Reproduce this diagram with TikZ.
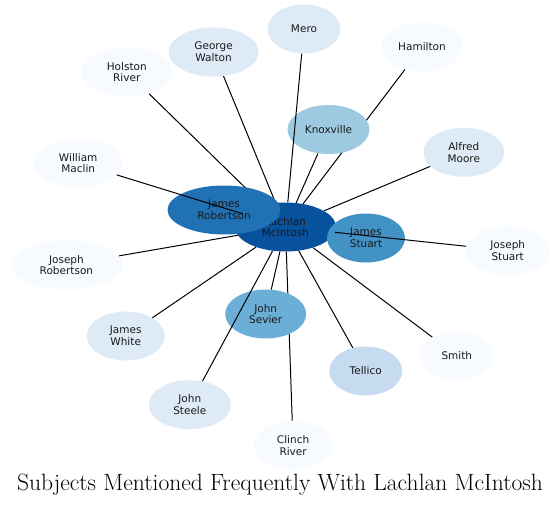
\documentclass[tikz,border=0pt]{standalone}
\usepackage{fontspec}
\newfontfamily\dejavu{DejaVu Sans}
\usetikzlibrary{shapes.geometric}
\pgfdeclarelayer{bg}
\pgfsetlayers{bg,main}

\definecolor{blueA}{RGB}{8,81,156}
\definecolor{blueB}{RGB}{33,113,181}
\definecolor{blueC}{RGB}{66,146,198}
\definecolor{blueD}{RGB}{107,174,214}
\definecolor{blueE}{RGB}{158,202,225}
\definecolor{blueF}{RGB}{198,219,239}
\definecolor{blueG}{RGB}{222,235,247}
\definecolor{blueH}{RGB}{247,251,255}

\tikzset{
  subj/.style={ellipse, inner sep=0pt, minimum height=49pt, align=center,
    font=\dejavu\fontsize{10.5}{11.8}\selectfont, text=black!90},
  link/.style={line width=1pt, black}
}

\begin{document}
\begin{tikzpicture}[x=1pt,y=-1pt]
\useasboundingbox (0,0) rectangle (560,506);

\node[subj, fill=blueA, minimum width=101pt] (lachlan) at (285.5,227) {Lachlan\\McIntosh};
\node[subj, fill=blueB, minimum width=113pt] (jrobertson) at (224,210) {James\\Robertson};
\node[subj, fill=blueC, minimum width=78pt] (jstuart) at (366,238) {James\\Stuart};
\node[subj, fill=blueD, minimum width=81pt] (sevier) at (265.7,314) {John\\Sevier};
\node[subj, fill=blueE, minimum width=82pt] (knoxville) at (328.5,129.5) {Knoxville};
\node[subj, fill=blueF, minimum width=73pt] (tellico) at (365.7,371) {Tellico};

\node[subj, fill=blueG, minimum width=73pt] (mero) at (304,29) {Mero};
\node[subj, fill=blueG, minimum width=90pt] (walton) at (213.6,52) {George\\Walton};
\node[subj, fill=blueG, minimum width=81pt] (moore) at (463.8,152.3) {Alfred\\Moore};
\node[subj, fill=blueG, minimum width=78pt] (white) at (125.7,336) {James\\White};
\node[subj, fill=blueG, minimum width=82pt] (steele) at (189.8,404.7) {John\\Steele};

\node[subj, fill=blueH, minimum width=91pt] (holston) at (126.8,72) {Holston\\River};
\node[subj, fill=blueH, minimum width=81pt] (hamilton) at (422,47) {Hamilton};
\node[subj, fill=blueH, minimum width=88pt] (maclin) at (78.2,163) {William\\Maclin};
\node[subj, fill=blueH, minimum width=112.5pt] (josrobertson) at (66.4,265) {Joseph\\Robertson};
\node[subj, fill=blueH, minimum width=84pt] (josstuart) at (507.7,250.7) {Joseph\\Stuart};
\node[subj, fill=blueH, minimum width=72.5pt] (smith) at (456.8,355.5) {Smith};
\node[subj, fill=blueH, minimum width=78pt] (clinch) at (293.1,445.3) {Clinch\\River};

% links hidden behind the nodes
\begin{pgfonlayer}{bg}
\foreach \s in {jrobertson,jstuart,sevier,knoxville,tellico,walton,moore,white,holston,hamilton,josrobertson,smith,clinch}
  \draw[link] (\s) -- (lachlan);
\end{pgfonlayer}

% links drawn over the nodes
\foreach \s in {mero,maclin,josstuart,steele}
  \draw[link] (\s) -- (lachlan);

\node[anchor=base, font=\fontsize{23.55}{28}\selectfont] (title) at (280,490.5) {Subjects Mentioned Frequently With Lachlan McIntosh};
\end{tikzpicture}
\end{document}
